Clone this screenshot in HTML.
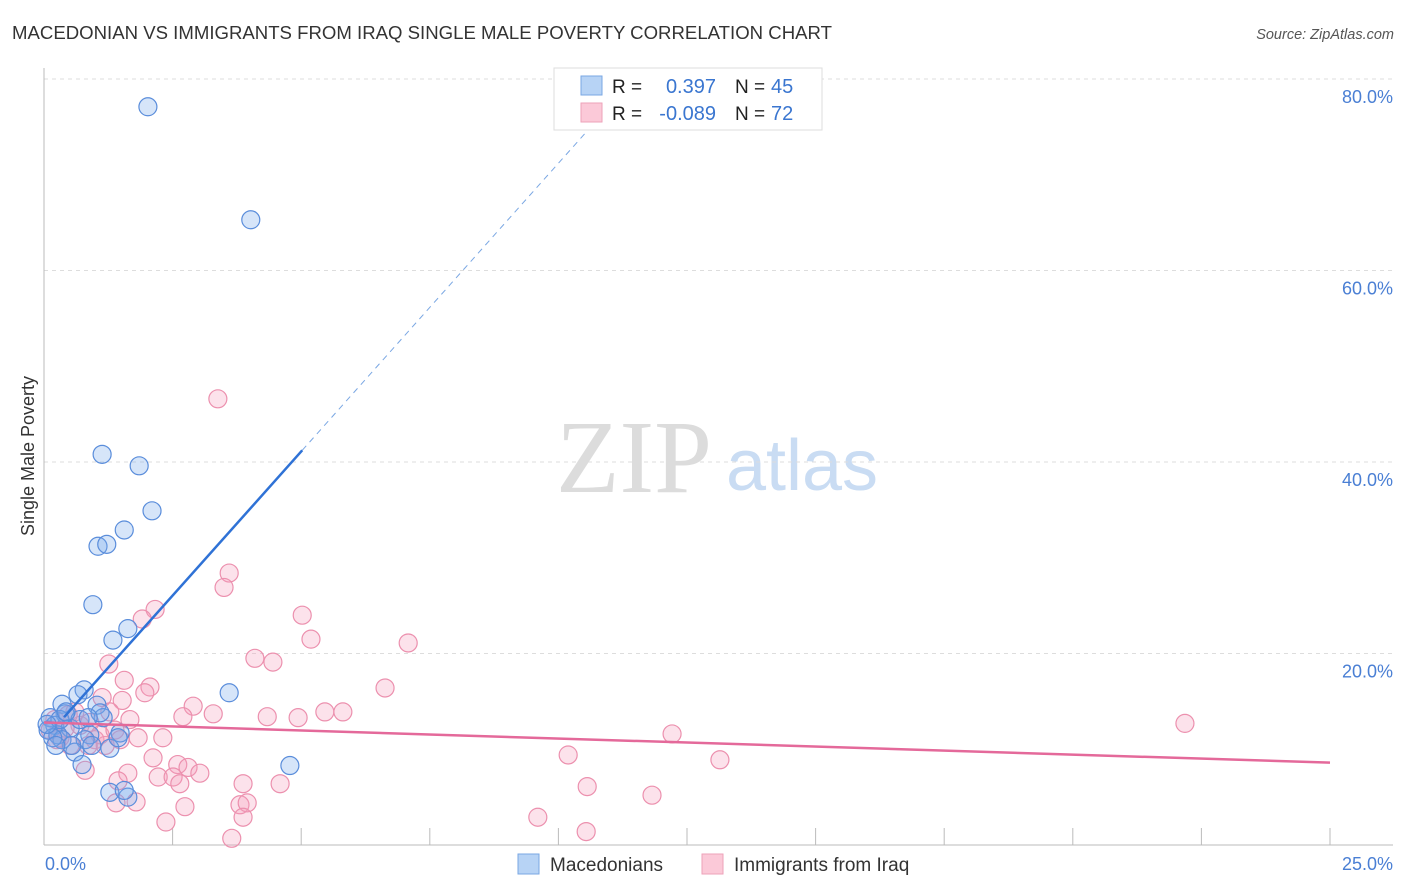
<!DOCTYPE html>
<html><head><meta charset="utf-8"><style>
body{margin:0;background:#fff;}
svg{display:block;font-family:"Liberation Sans",sans-serif;}
</style></head><body>
<svg id="chart" width="1406" height="892">
<text x="12" y="39" font-size="18.6" fill="#333">MACEDONIAN VS IMMIGRANTS FROM IRAQ SINGLE MALE POVERTY CORRELATION CHART</text>
<text x="1394" y="39" font-size="14.5" fill="#555" font-style="italic" text-anchor="end">Source: ZipAtlas.com</text>
<g>
<text x="634" y="492" font-size="104" font-family="Liberation Serif,serif" fill="#dcdcdc" text-anchor="middle">ZIP</text>
<text x="802" y="490" font-size="72" fill="#c9dcf3" text-anchor="middle">atlas</text>
</g>
<g id="grid"></g>
<g id="axes"></g>
<g id="marks"></g>
<text transform="translate(34,456) rotate(-90)" font-size="18" fill="#333" text-anchor="middle">Single Male Poverty</text>
<text x="45" y="870" font-size="18" fill="#4a7fd4">0.0%</text>
<text x="1393" y="870" font-size="18" fill="#4a7fd4" text-anchor="end">25.0%</text>
<g>
<rect x="554" y="68" width="268" height="62" fill="#fff" stroke="#ddd"/>
<rect x="581" y="76" width="21" height="19" fill="#b7d3f5" stroke="#7aa7e3"/>
<rect x="581" y="103" width="21" height="19" fill="#fbc9d8" stroke="#eea2b9"/>
<text x="612" y="93" font-size="19" fill="#222">R =</text>
<text x="716" y="93" font-size="20" fill="#3a76d0" text-anchor="end">0.397</text>
<text x="735" y="93" font-size="19" fill="#222">N =</text>
<text x="771" y="93" font-size="20" fill="#3a76d0">45</text>
<text x="612" y="120" font-size="19" fill="#222">R =</text>
<text x="716" y="120" font-size="20" fill="#3a76d0" text-anchor="end">-0.089</text>
<text x="735" y="120" font-size="19" fill="#222">N =</text>
<text x="771" y="120" font-size="20" fill="#3a76d0">72</text>
</g>
<g>
<rect x="518" y="854" width="21" height="20" fill="#b7d3f5" stroke="#7aa7e3"/>
<text x="550" y="871" font-size="19" fill="#333">Macedonians</text>
<rect x="702" y="854" width="21" height="20" fill="#fbc9d8" stroke="#eea2b9"/>
<text x="734" y="871" font-size="19" fill="#333">Immigrants from Iraq</text>
</g>
</svg>
<script>
const yTicks=[20,40,60,80];
const yTickLabels=["20.0%","40.0%","60.0%","80.0%"];
const xTicks=[0,2.5,5,7.5,10,12.5,15,17.5,20,22.5,25];
const blueX=[2.02,4.02,1.13,1.85,2.10,1.56,1.05,1.22,0.95,1.34,1.63,3.60,4.78,0.78,0.66,0.35,1.03,0.41,1.15,0.12,0.21,0.08,0.51,0.89,0.27,0.80,1.28,0.60,1.48,0.74,1.28,1.63,1.56,0.35,0.17,0.70,0.31,0.93,1.44,0.06,0.43,0.54,1.09,0.23,0.86];
const blueY=[77.1,65.3,40.8,39.6,34.9,32.9,31.2,31.4,25.1,21.4,22.6,15.9,8.3,16.2,15.7,14.7,14.6,13.7,13.3,13.3,12.5,12.0,12.2,11.5,11.5,11.0,10.1,9.7,11.7,8.4,5.5,5.0,5.7,11.0,11.2,13.1,13.1,10.4,11.2,12.6,13.9,10.4,13.8,10.4,13.3];
const pinkX=[3.38,3.60,3.50,2.16,1.91,5.02,5.19,7.08,4.10,4.45,1.26,1.56,2.06,1.96,2.90,6.63,2.70,3.29,4.34,4.94,5.46,5.81,1.52,1.13,12.21,22.18,10.19,13.14,2.12,2.31,1.83,2.60,2.80,3.03,2.22,2.51,2.64,1.63,1.44,1.40,1.79,2.74,3.87,4.59,3.81,3.95,3.87,2.37,3.65,9.60,10.54,10.56,11.82,0.80,0.51,0.31,0.99,1.19,0.70,0.12,0.21,0.41,0.60,0.89,1.09,1.38,1.48,1.67,0.25,0.47,0.86,1.28];
const pinkY=[46.6,28.4,26.9,24.6,23.6,24.0,21.5,21.1,19.5,19.1,18.9,17.2,16.5,15.9,14.5,16.4,13.4,13.7,13.4,13.3,13.9,13.9,15.1,15.4,11.6,12.7,9.4,8.9,9.1,11.2,11.2,8.4,8.1,7.5,7.1,7.1,6.4,7.5,6.7,4.4,4.5,4.0,6.4,6.4,4.2,4.4,2.9,2.4,0.7,2.9,1.4,6.1,5.2,7.8,10.4,11.2,11.0,10.4,12.5,12.0,13.1,12.2,13.9,12.8,11.5,12.0,11.0,13.1,11.0,13.6,10.4,13.9];
const blueTrend=[11.0,6.02];
const blueSolidRange=[0.39,5.02];
const blueDashEnd=10.8;
const pinkTrend=[12.8,-0.168];

const X=v=>44+v*51.44;
const Y=v=>845-v*9.575;
const NS="http://www.w3.org/2000/svg";
function mk(tag,attrs,parent){const e=document.createElementNS(NS,tag);for(const k in attrs)e.setAttribute(k,attrs[k]);parent.appendChild(e);return e;}
const grid=document.getElementById('grid'),axes=document.getElementById('axes'),marks=document.getElementById('marks');
yTicks.forEach((t,i)=>{
  const l=mk('line',{x1:44,x2:1393,y1:Y(t),y2:Y(t),stroke:'#ddd','stroke-dasharray':'4,4'},grid);
  
  
  const tx=mk('text',{x:1393,y:Y(t)+24,'font-size':18,fill:'#4a7fd4','text-anchor':'end'},grid);
  tx.textContent=yTickLabels[i];
  
  
});
const ax=mk('line',{x1:44,x2:44,y1:68,y2:845,stroke:'#bbb'},axes);


const bx=mk('line',{x1:44,x2:1393,y1:845,y2:845,stroke:'#bbb'},axes);


xTicks.forEach(t=>{
  const l=mk('line',{x1:X(t),x2:X(t),y1:828,y2:845,stroke:'#bbb'},axes);
  
  
});
pinkX.forEach((x,i)=>{
  const c=mk('circle',{cx:X(x),cy:Y(pinkY[i]),r:9,fill:'rgba(244,160,188,0.3)',stroke:'#ec90ae','stroke-width':1.2},marks);
  
  
});
blueX.forEach((x,i)=>{
  const c=mk('circle',{cx:X(x),cy:Y(blueY[i]),r:9,fill:'rgba(120,170,235,0.3)',stroke:'#5a8ddb','stroke-width':1.2},marks);
  
  
});
const bf=x=>blueTrend[0]+blueTrend[1]*x;
const pf=x=>pinkTrend[0]+pinkTrend[1]*x;
const pl=mk('line',{x1:X(0),y1:Y(pf(0)),x2:X(25),y2:Y(pf(25)),stroke:'#e4699a','stroke-width':2.5},marks);


const bl=mk('line',{x1:X(blueSolidRange[0]),y1:Y(bf(blueSolidRange[0])),x2:X(blueSolidRange[1]),y2:Y(bf(blueSolidRange[1])),stroke:'#2f72d6','stroke-width':2.5},marks);


const bd=mk('line',{x1:X(blueSolidRange[1]),y1:Y(bf(blueSolidRange[1])),x2:X(blueDashEnd),y2:Y(bf(blueDashEnd)),stroke:'#7aa7e3','stroke-width':1,'stroke-dasharray':'6,5'},marks);


</script>
</body></html>
